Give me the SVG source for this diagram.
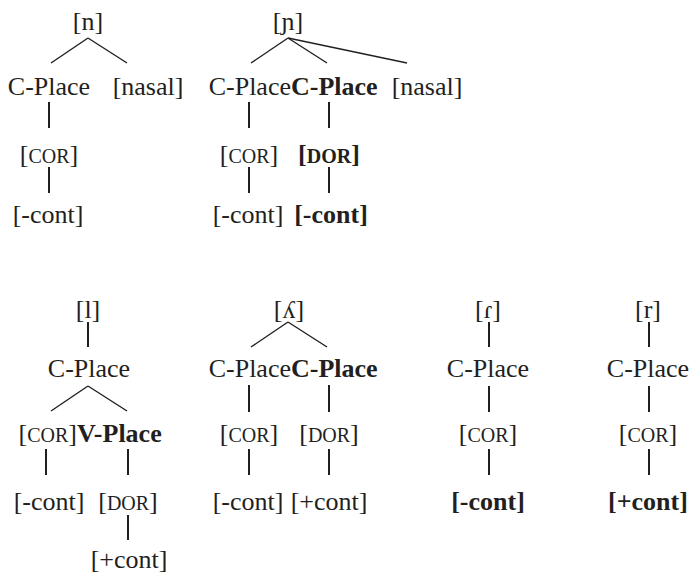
<svg xmlns="http://www.w3.org/2000/svg" width="691" height="576" viewBox="0 0 691 576">
<style>
text{font-family:"Liberation Serif","DejaVu Serif",serif;font-size:26px;fill:#231f20;text-anchor:middle}
.b{font-weight:bold}
.sc{font-size:20px}
.e{text-anchor:end}
.s{text-anchor:start}
line{stroke:#231f20;stroke-width:1.4}
line.v{stroke-width:2}
</style>
<rect width="691" height="576" fill="#fff"/>
<g id="connectors">
<line x1="88" y1="38" x2="51" y2="63"/><line x1="88" y1="38" x2="127" y2="63"/>
<line class="v" x1="49" y1="102" x2="49" y2="128"/><line class="v" x1="49" y1="167" x2="49" y2="193"/>
<line x1="288" y1="38" x2="251" y2="63"/><line x1="288" y1="38" x2="327" y2="63"/><line x1="288" y1="38" x2="407" y2="63"/>
<line class="v" x1="249" y1="102" x2="249" y2="128"/><line class="v" x1="329" y1="102" x2="329" y2="128"/>
<line class="v" x1="249" y1="167" x2="249" y2="193"/><line class="v" x1="329" y1="167" x2="329" y2="193"/>
<line class="v" x1="88" y1="322" x2="88" y2="347"/>
<line x1="88" y1="386" x2="51" y2="411"/><line x1="88" y1="386" x2="127" y2="411"/>
<line class="v" x1="46" y1="449" x2="46" y2="475"/><line class="v" x1="128" y1="449" x2="128" y2="475"/>
<line class="v" x1="128" y1="515" x2="128" y2="540"/>
<line x1="288" y1="322" x2="251" y2="347"/><line x1="288" y1="322" x2="327" y2="347"/>
<line class="v" x1="249" y1="385" x2="249" y2="412"/><line class="v" x1="329" y1="385" x2="329" y2="412"/>
<line class="v" x1="249" y1="449" x2="249" y2="475"/><line class="v" x1="329" y1="449" x2="329" y2="475"/>
<line class="v" x1="489" y1="322" x2="489" y2="347"/><line class="v" x1="489" y1="386" x2="489" y2="412"/><line class="v" x1="489" y1="449" x2="489" y2="475"/>
<line class="v" x1="649" y1="322" x2="649" y2="347"/><line class="v" x1="649" y1="386" x2="649" y2="412"/><line class="v" x1="649" y1="449" x2="649" y2="475"/>
</g>
<g id="tree-n">
<text x="88" y="30">[n]</text>
<text x="49" y="95">C-Place</text>
<text x="148" y="95">[nasal]</text>
<text x="49" y="163">[<tspan class="sc">COR</tspan>]</text>
<text x="48" y="223">[-cont]</text>
</g>
<g id="tree-palatal-nasal">
<text x="288" y="30">[ɲ]</text>
<text class="e" x="291" y="95">C-Place</text>
<text class="s b" x="291" y="95">C-Place</text>
<text x="427" y="95">[nasal]</text>
<text x="249" y="163">[<tspan class="sc">COR</tspan>]</text>
<text class="b" x="329" y="163">[<tspan class="sc">DOR</tspan>]</text>
<text x="248" y="223">[-cont]</text>
<text class="b" x="331" y="223">[-cont]</text>
</g>
<g id="tree-l">
<text x="88" y="318">[l]</text>
<text x="89" y="377">C-Place</text>
<text class="e" x="77" y="442">[<tspan class="sc">COR</tspan>]</text>
<text class="s b" x="77" y="442">V-Place</text>
<text x="49" y="510">[-cont]</text>
<text x="128" y="510">[<tspan class="sc">DOR</tspan>]</text>
<text x="129" y="568">[+cont]</text>
</g>
<g id="tree-palatal-lateral">
<text x="289" y="318">[ʎ]</text>
<text class="e" x="291" y="377">C-Place</text>
<text class="s b" x="291" y="377">C-Place</text>
<text x="249" y="442">[<tspan class="sc">COR</tspan>]</text>
<text x="329" y="442">[<tspan class="sc">DOR</tspan>]</text>
<text x="248" y="510">[-cont]</text>
<text x="329" y="510">[+cont]</text>
</g>
<g id="tree-tap">
<text x="488" y="318">[ɾ]</text>
<text x="488" y="377">C-Place</text>
<text x="488" y="442">[<tspan class="sc">COR</tspan>]</text>
<text class="b" x="488" y="510">[-cont]</text>
</g>
<g id="tree-trill">
<text x="648" y="318">[r]</text>
<text x="648" y="377">C-Place</text>
<text x="648" y="442">[<tspan class="sc">COR</tspan>]</text>
<text class="b" x="648" y="510">[+cont]</text>
</g>
</svg>
